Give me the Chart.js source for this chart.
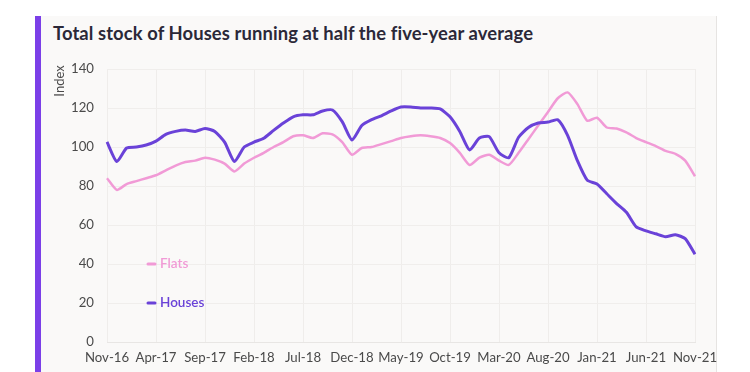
<!DOCTYPE html>
<html>
<head>
<meta charset="utf-8">
<script src="https://cdn.jsdelivr.net/npm/chart.js@4/dist/chart.umd.min.js"></script>
<style>
  html, body { margin: 0; padding: 0; background: #ffffff; }
  body { width: 750px; height: 372px; position: relative; overflow: hidden; font-family: Lato, "Noto Sans", sans-serif; }
  .bar { position: absolute; left: 35px; top: 16px; width: 6px; height: 360px; background: #7b3fe8; }
  .panel { position: absolute; left: 41px; top: 16px; width: 675px; height: 360px; background: #faf9f8; border-right: 1px solid #e6e4e2; }
  .title { position: absolute; left: 53px; top: 22px; font-size: 18.4px; font-weight: 700; color: #2b2838; letter-spacing: 0.1px; }
  #wrap { position: absolute; left: 0; top: 0; width: 750px; height: 372px; }
</style>
</head>
<body>
<div class="bar"></div>
<div class="panel"></div>
<div class="title">Total stock of Houses running at half the five-year average</div>
<div id="wrap"><canvas id="chart"></canvas></div>
<script>
// monthly labels, Nov-16 .. Nov-21
const months = [
  'Nov-16','Dec-16','Jan-17','Feb-17','Mar-17','Apr-17','May-17','Jun-17','Jul-17','Aug-17','Sep-17','Oct-17',
  'Nov-17','Dec-17','Jan-18','Feb-18','Mar-18','Apr-18','May-18','Jun-18','Jul-18','Aug-18','Sep-18','Oct-18',
  'Nov-18','Dec-18','Jan-19','Feb-19','Mar-19','Apr-19','May-19','Jun-19','Jul-19','Aug-19','Sep-19','Oct-19',
  'Nov-19','Dec-19','Jan-20','Feb-20','Mar-20','Apr-20','May-20','Jun-20','Jul-20','Aug-20','Sep-20','Oct-20',
  'Nov-20','Dec-20','Jan-21','Feb-21','Mar-21','Apr-21','May-21','Jun-21','Jul-21','Aug-21','Sep-21','Oct-21',
  'Nov-21'
];

const flats = [
  84, 78, 81, 82.5, 84, 85.5, 88, 90.5, 92.3, 93, 94.5, 93.5,
  91.5, 87.5, 91.5, 94.5, 97, 100, 102.5, 105.5, 106, 104.6, 107, 106.5,
  102.5, 96, 99.5, 100, 101.5, 103, 104.6, 105.5, 106, 105.5, 104.6, 102,
  97, 90.8, 94.5, 96, 93, 90.8, 97, 104, 111, 118, 125, 128,
  122, 113.5, 115, 110, 109.5, 107.5, 104.6, 102.5, 100.5, 98, 96.5, 93,
  85
];

const houses = [
  102.6, 92.5, 99.5, 100, 101, 103, 106.5, 108, 108.7, 108, 109.5, 108,
  102.5, 92.5, 100, 102.5, 104.5, 108.5, 112.3, 115.5, 116.5, 116.5, 118.5, 119,
  113, 103.6, 111, 114, 116, 118.5, 120.5, 120.5, 120, 120, 119.5, 115.5,
  108, 98.5, 104.6, 105.3, 97, 94.5, 105, 110, 112.3, 112.8, 114, 106,
  93, 83, 81, 76, 71, 66.5, 59, 57, 55.5, 54, 55, 53,
  45
];

const yTicks = [0, 20, 40, 60, 80, 100, 120, 140];

const FLATS_COLOR = '#f19ad6';
const HOUSES_COLOR = '#6a42d8';
const FONT = 'Lato, "Noto Sans", sans-serif';

// legend drawn inside the plot, plus the small "Index" axis caption
const overlay = {
  id: 'overlay',
  afterDatasetsDraw(chart) {
    const { ctx, chartArea, scales } = chart;
    const items = [
      { text: 'Flats', color: FLATS_COLOR, value: 40 },
      { text: 'Houses', color: HOUSES_COLOR, value: 20 }
    ];
    ctx.save();
    items.forEach(it => {
      const y = scales.y.getPixelForValue(it.value);
      const x = chartArea.left + 40;
      ctx.strokeStyle = it.color;
      ctx.lineWidth = 3;
      ctx.lineCap = 'round';
      ctx.beginPath();
      ctx.moveTo(x + 1, y);
      ctx.lineTo(x + 8, y);
      ctx.stroke();
      ctx.fillStyle = it.color;
      ctx.font = '600 13.5px ' + FONT;
      ctx.textBaseline = 'middle';
      ctx.fillText(it.text, x + 13, y);
    });
    ctx.translate(60, scales.y.getPixelForValue(140) + 12);
    ctx.rotate(-Math.PI / 2);
    ctx.fillStyle = '#4a4a4a';
    ctx.font = '13px ' + FONT;
    ctx.textAlign = 'center';
    ctx.textBaseline = 'middle';
    ctx.fillText('Index', 0, 0);
    ctx.restore();
  }
};

new Chart(document.getElementById('chart').getContext('2d'), {
  type: 'line',
  data: {
    labels: months,
    datasets: [
      {
        label: 'Houses',
        data: houses,
        borderColor: HOUSES_COLOR,
        borderWidth: 3,
        pointRadius: 0,
        tension: 0.2,
        order: 0
      },
      {
        label: 'Flats',
        data: flats,
        borderColor: FLATS_COLOR,
        borderWidth: 2.5,
        pointRadius: 0,
        tension: 0.2,
        order: 1
      }
    ]
  },
  options: {
    responsive: true,
    maintainAspectRatio: false,
    animation: false,
    layout: { padding: { top: 69, right: 55, bottom: 0, left: 0 } },
    plugins: {
      legend: { display: false },
      tooltip: { enabled: false }
    },
    scales: {
      x: {
        grid: { color: '#efedeb', drawTicks: false },
        border: { display: true, color: '#e8e6e4' },
        ticks: {
          autoSkip: false,
          maxRotation: 0,
          padding: 8,
          color: '#4a4a4a',
          font: { family: FONT, size: 13.2 },
          callback: (v, i) => (i % 5 === 0 ? months[i] : null)
        },
        afterFit(scale) { scale.height = 30; }
      },
      y: {
        min: 0,
        max: 140,
        afterBuildTicks(scale) { scale.ticks = yTicks.map(v => ({ value: v })); },
        grid: { color: '#f0eeec', drawTicks: false },
        border: { display: false },
        ticks: {
          padding: 13,
          color: '#4a4a4a',
          font: { family: FONT, size: 13.2 }
        },
        afterFit(scale) { scale.width = 107; }
      }
    }
  },
  plugins: [overlay]
});
</script>
</body>
</html>
